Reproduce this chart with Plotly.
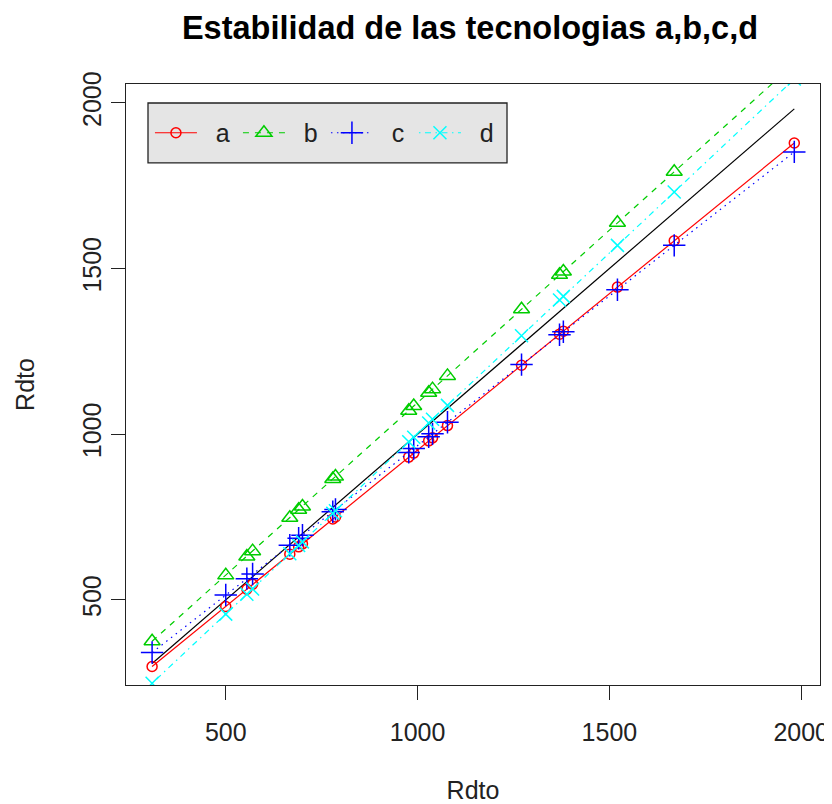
import plotly.graph_objects as go

# Environment means (x) and fitted yields per technology
env_mean = [308, 500, 555, 570, 667, 690, 700, 779, 786, 977, 990, 1029, 1039, 1078,
            1271, 1370, 1380, 1521, 1669, 1982]
tech_a = [299, 480, 532, 547, 638, 660, 669, 744, 750, 931, 943, 980, 989, 1026,
          1208, 1302, 1311, 1444, 1584, 1879]
tech_b = [375, 574, 631, 647, 748, 772, 782, 865, 872, 1071, 1085, 1125, 1136, 1176,
          1377, 1481, 1491, 1638, 1792, 2118]
tech_c = [341, 515, 564, 578, 665, 686, 695, 766, 773, 945, 957, 992, 1001, 1036,
          1210, 1300, 1309, 1436, 1570, 1852]
tech_d = [248, 457, 517, 533, 639, 664, 675, 761, 769, 977, 991, 1034, 1045, 1087,
          1297, 1405, 1416, 1570, 1731, 2072]
series_names = ["a", "b", "c", "d"]
tick_vals = [500, 1000, 1500, 2000]

series_vals = [tech_a, tech_b, tech_c, tech_d]
colors = ["#FF0000", "#00CD00", "#0000FF", "#00FFFF"]
dashes = ["solid", "6px,6px", "1.5px,4.5px", "1.5px,4.5px,6px,4.5px"]
symbols = ["circle-open", "triangle-up-open", "cross-thin-open", "x-thin-open"]
sizes = [10, 14, 16, 13]

FONT = "Liberation Sans, Arial"
NBSP = "\u00a0"

fig = go.Figure()

# reference line y = x
fig.add_trace(go.Scatter(x=env_mean, y=env_mean, mode="lines",
                         line=dict(color="black", width=1.2),
                         showlegend=False, hoverinfo="skip"))

for name, vals, c, d, s, sz in zip(series_names, series_vals, colors, dashes, symbols, sizes):
    fig.add_trace(go.Scatter(
        x=env_mean, y=vals, name=NBSP * 2 + name, mode="lines+markers",
        line=dict(color=c, width=1.2, dash=d),
        marker=dict(symbol=s, size=sz, color=c, line=dict(color=c, width=1.5)),
    ))

axis_common = dict(
    tickvals=tick_vals, ticks="outside", ticklen=14, tickwidth=1.3, tickcolor="#222222",
    showline=True, linecolor="#222222", linewidth=1.3, mirror=True,
    showgrid=False, zeroline=False, automargin=False,
    tickfont=dict(family=FONT, size=25, color="#222222"),
    title_font=dict(family=FONT, size=25, color="#222222"),
)

fig.update_xaxes(range=[240, 2049], title_text="Rdto", title_standoff=40,
                 ticklabelstandoff=11, **axis_common)
fig.update_yaxes(range=[243, 2057], title_text="Rdto", tickangle=-90, title_standoff=36,
                 **axis_common)

# legend box (R-style grey box)
fig.add_shape(type="rect", xref="paper", yref="paper",
              x0=0.0317, x1=0.549, y0=0.8686, y1=0.9684,
              fillcolor="#E5E5E5", line=dict(color="#222222", width=1.3), layer="above")

fig.update_layout(
    width=824, height=796,
    margin=dict(l=118, r=12, t=76, b=119),
    paper_bgcolor="white", plot_bgcolor="white",
    title=dict(text="<b>Estabilidad de las tecnologias a,b,c,d</b>",
               x=0.5607, xanchor="center", y=0.975, yanchor="middle",
               font=dict(family=FONT, size=32.5, color="black")),
    legend=dict(
        orientation="h", x=0.0345, y=0.9185, xanchor="left", yanchor="middle",
        bgcolor="rgba(0,0,0,0)", borderwidth=0,
        font=dict(family=FONT, size=25, color="#222222"),
        itemwidth=42, entrywidth=31, entrywidthmode="pixels",
    ),
    showlegend=True,
)

fig.write_html("out.html")
